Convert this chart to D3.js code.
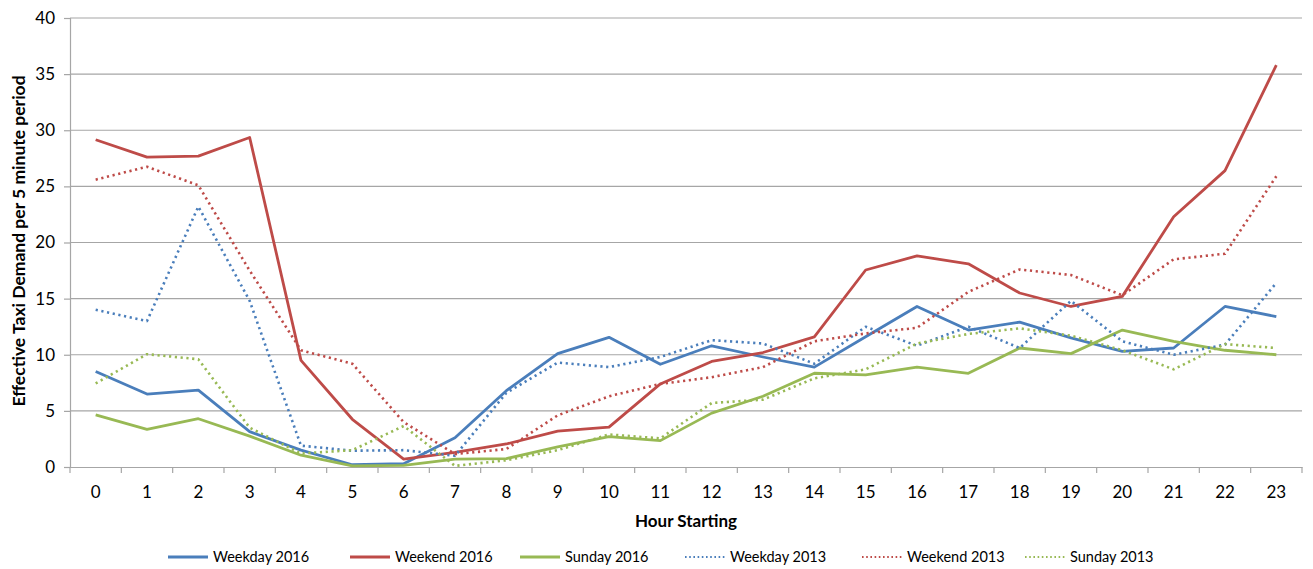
<!DOCTYPE html>
<html><head><meta charset="utf-8">
<script src="https://cdn.jsdelivr.net/npm/d3@7"></script>
<style>
body{margin:0;background:#fff;}
text{font-family:Lato,"Open Sans",sans-serif;fill:#000;}
</style></head>
<body><svg id="c" width="1313" height="569"></svg>
<script>
const hours = d3.range(0,24).map(String);
const yTicks = [0,5,10,15,20,25,30,35,40];
const seriesNames = ["Weekday 2016","Weekend 2016","Sunday 2016","Weekday 2013","Weekend 2013","Sunday 2013"];
const weekday2016 = [8.5,6.5,6.85,3.15,1.5,0.2,0.3,2.6,6.8,10.1,11.55,9.15,10.8,9.8,8.9,11.6,14.3,12.2,12.9,11.5,10.3,10.6,14.3,13.4];
const weekend2016 = [29.15,27.6,27.7,29.35,9.5,4.25,0.7,1.3,2.05,3.2,3.55,7.4,9.4,10.2,11.6,17.55,18.8,18.1,15.5,14.3,15.2,22.3,26.4,35.8];
const sunday2016  = [4.65,3.35,4.3,2.75,1.05,0.1,0.15,0.7,0.75,1.8,2.7,2.35,4.8,6.3,8.35,8.2,8.9,8.35,10.6,10.1,12.2,11.2,10.4,10.0];
const weekday2013 = [14.0,13.0,23.2,14.8,1.9,1.45,1.5,1.0,6.6,9.3,8.9,9.8,11.3,11.0,9.2,12.5,10.8,12.5,10.6,14.8,11.2,10.0,10.9,16.4];
const weekend2013 = [25.6,26.75,25.1,17.5,10.4,9.2,4.0,1.15,1.6,4.6,6.3,7.4,8.0,8.9,11.2,11.9,12.4,15.6,17.6,17.1,15.3,18.5,19.0,25.9];
const sunday2013  = [7.45,10.05,9.6,3.5,1.2,1.5,3.65,0.1,0.6,1.5,2.9,2.55,5.7,6.0,7.9,8.7,11.0,11.85,12.35,11.7,10.4,8.7,10.95,10.6];

const seriesValues = [weekday2016,weekend2016,sunday2016,weekday2013,weekend2013,sunday2013];
const colors = ["#4A7EBB","#BE4B48","#98B954","#4A7EBB","#BE4B48","#98B954"];
const dotted = [false,false,false,true,true,true];

const svg = d3.select("#c");
const L=70, R=1302, T=18, B=467;
const x = d3.scaleBand().domain(hours).range([L,R]);
const y = d3.scaleLinear().domain([0,40]).range([B,T]);

// gridlines
svg.append("g").selectAll("line").data(yTicks.filter(d=>d>0)).join("line")
  .attr("x1",L).attr("x2",R).attr("y1",d=>y(d)).attr("y2",d=>y(d))
  .attr("stroke","#A6A6A6").attr("stroke-width",1.2);

// y axis
const ya = svg.append("g").attr("transform",`translate(${L},0)`)
  .call(d3.axisLeft(y).tickValues(yTicks).tickSize(6).tickPadding(9));
ya.select(".domain").attr("stroke","#A6A6A6").attr("stroke-width",1.2);
ya.selectAll(".tick line").attr("stroke","#A6A6A6").attr("stroke-width",1.2);
ya.selectAll("text").style("font-size","17px").attr("fill","#222");

// x axis
const xa = svg.append("g").attr("transform",`translate(0,${B})`)
  .call(d3.axisBottom(x).tickSize(0).tickPadding(19));
xa.select(".domain").attr("stroke","#A6A6A6").attr("stroke-width",1.2);
xa.selectAll("text").style("font-size","17px").attr("fill","#222");
// boundary tick marks
svg.append("g").selectAll("line").data(d3.range(0,25)).join("line")
  .attr("x1",i=>L+i*x.step()).attr("x2",i=>L+i*x.step())
  .attr("y1",B).attr("y2",B+6).attr("stroke","#A6A6A6").attr("stroke-width",1.2);

// lines
const line = d3.line().x((d,i)=>x(hours[i])+x.bandwidth()/2).y(d=>y(d));
seriesValues.forEach((vals,k)=>{
  svg.append("path").datum(vals).attr("d",line).attr("fill","none")
    .attr("stroke",colors[k]).attr("stroke-width",dotted[k]?2.6:2.8)
    .attr("stroke-linejoin","round")
    .attr("stroke-dasharray",dotted[k]?"2.2 3.6":null);
});

// axis titles
svg.append("text").attr("x",(L+R)/2).attr("y",527).attr("text-anchor","middle")
  .style("font-size","17px").style("font-weight","bold").text("Hour Starting");
svg.append("text").attr("transform",`translate(25,241) rotate(-90)`).attr("text-anchor","middle")
  .style("font-size","17.5px").style("font-weight","bold").text("Effective Taxi Demand per 5 minute period");

// legend
const legX = [168,350,520,685,862,1025];
const lg = svg.append("g");
seriesNames.forEach((n,k)=>{
  const g = lg.append("g").attr("transform",`translate(${legX[k]},557)`);
  g.append("line").attr("x1",0).attr("x2",40).attr("y1",0).attr("y2",0)
    .attr("stroke",colors[k]).attr("stroke-width",dotted[k]?2:2.8)
    .attr("stroke-dasharray",dotted[k]?"1.6 2.6":null);
  g.append("text").attr("x",45).attr("y",5).style("font-size","14.5px").attr("fill","#222").text(n);
});
</script></body></html>
